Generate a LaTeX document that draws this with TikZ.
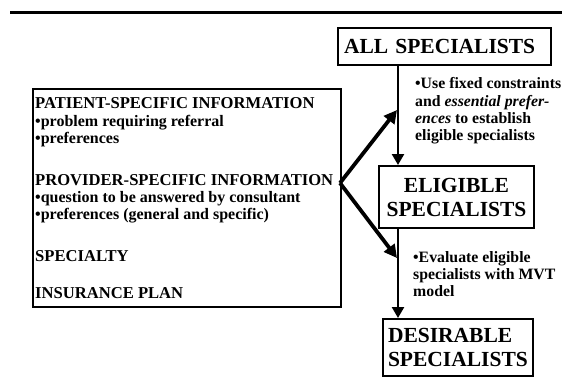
\documentclass[tikz,border=0pt]{standalone}
\usepackage{fontspec}
\setmainfont{Liberation Serif}
\usetikzlibrary{arrows.meta}
\begin{document}
\begin{tikzpicture}[x=1pt,y=-1pt,
  txt/.style={inner sep=0pt,anchor=base west,font=\bfseries},
  head/.style={txt,font=\fontsize{16.6}{18}\selectfont\bfseries},
  item/.style={txt,font=\fontsize{16}{17}\selectfont\bfseries},
  note/.style={txt,font=\fontsize{15.8}{17}\selectfont\bfseries},
  stagebox/.style={draw,line width=2pt,inner sep=0pt,font=\fontsize{21.5}{24}\selectfont\bfseries},
  flow/.style={line width=2.4pt,-{Triangle[length=11pt,width=12pt]}},
  fork/.style={line width=3.8pt,-{Triangle[length=13pt,width=13pt]}}]
\useasboundingbox (0,0) rectangle (562,389);
% rule across the top
\coordinate (ruleL) at (10,12);
\coordinate (ruleR) at (562,12);
\draw[line width=3pt] (ruleL) -- (ruleR);

% input box
\node[draw,line width=2pt,minimum width=308pt,minimum height=218pt,inner sep=0pt,anchor=north west] (info) at (32,88) {};
\node[head] (p1) at (35,108) {PATIENT-SPECIFIC INFORMATION};
\node[item] (p2) at (35,126) {•problem requiring referral};
\node[item] (p3) at (35,143) {•preferences};
\node[head] (v1) at (35,185) {PROVIDER-SPECIFIC INFORMATION};
\node[item] (v2) at (35,202) {•question to be answered by consultant};
\node[item] (v3) at (35,219) {•preferences (general and specific)};
\node[head] (sp) at (35,261) {SPECIALTY};
\node[head] (ins) at (35,298) {INSURANCE PLAN};

% stages
\node[stagebox,anchor=north west,minimum height=37pt,text width=201pt,inner xsep=6pt,align=left] (all) at (337,27) {ALL SPECIALISTS};
\node[stagebox,anchor=north west,minimum width=155pt,minimum height=62pt,align=center] (eligible) at (378,165) {ELIGIBLE\\SPECIALISTS};
\node[stagebox,anchor=north west,minimum height=57pt,text width=140pt,inner xsep=5pt,align=left] (desirable) at (382,318) {DESIRABLE\\SPECIALISTS};

% notes beside the spine
\node[note] (n1) at (415,88) {•Use fixed constraints};
\node[note] (n2) at (415,106) {and \textit{essential prefer-}};
\node[note] (n3) at (415,123) {\textit{ences} to establish};
\node[note] (n4) at (415,140) {eligible specialists};
\node[note] (m1) at (413,262) {•Evaluate eligible};
\node[note] (m2) at (413,279) {specialists with MVT};
\node[note] (m3) at (413,296) {model};

% connectors
\coordinate (spine) at (398,0);
\coordinate (branch) at (340,183);
\coordinate (uphit) at (397,110);
\coordinate (lowhit) at (397,258);
\draw[flow] (all.south -| spine) -- (eligible.north -| spine);
\draw[flow] (eligible.south -| spine) -- (desirable.north -| spine);
\draw[fork] (branch) -- (uphit);
\draw[fork] (branch) -- (lowhit);
\end{tikzpicture}
\end{document}
